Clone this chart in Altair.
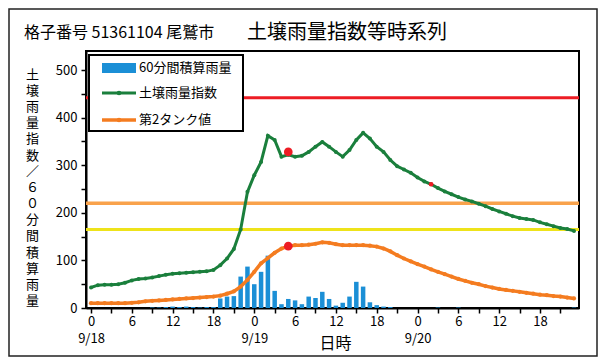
import altair as alt
import pandas as pd

# ---------------- data ----------------
HOURS = list(range(72))  # 9/18 0:00 .. 9/20 23:00, hourly
RAIN = [0, 0, 0, 0, 0, 0, 0, 0, 0, 1, 1, 2, 3, 2, 3, 2, 1, 2, 2, 20,
        24, 25, 66, 87, 50, 76, 110, 36, 8, 19, 16, 8, 24, 21, 34, 19, 5, 11, 24, 55,
        45, 12, 6, 3, 2, 0, 0, 0, 0, 0, 0, 1, 0, 0, 1, 0, 0, 0, 0, 0,
        0, 0, 0, 0, 0, 0, 0, 0, 0, 0, 0, 1]
SOIL = [43, 48, 49, 49, 50, 53, 58, 61, 62, 64, 67, 70, 72, 73, 74, 75, 76, 77, 80, 90,
        104, 124, 165, 244, 279, 307, 362, 353, 318, 322, 318, 320, 328, 339, 349, 339, 328, 318, 332, 353,
        368, 356, 339, 328, 311, 298, 291, 284, 274, 266, 260, 252, 245, 239, 233, 228, 224, 219, 214, 208,
        203, 198, 193, 189, 187, 185, 180, 176, 172, 168, 166, 162]
TANK2 = [10, 10, 10, 10, 10, 10, 11, 12, 14, 15, 16, 17, 18, 19, 20, 21, 22, 23, 24, 26,
         30, 35, 45, 59, 76, 94, 105, 116, 125, 130, 132, 132, 133, 135, 138, 137, 134, 132, 132, 132,
         132, 131, 129, 125, 119, 111, 104, 98, 92, 87, 81, 76, 71, 66, 61, 57, 53, 50, 46, 43,
         40, 38, 36, 34, 32, 30, 28, 27, 25, 24, 22, 20]
THRESH_RED = [442]
THRESH_ORANGE = [220]
THRESH_YELLOW = [165]
BIG_DOT_HOURS = [29, 29]
BIG_DOT_VALUES = [328, 130]
SMALL_DOT_HOURS = [50]
SMALL_DOT_VALUES = [260]

TITLE_LEFT = ["格子番号 51361104 尾鷲市"]
TITLE_MAIN = ["土壌雨量指数等時系列"]
Y_TITLE = "土壌雨量指数／６０分間積算雨量"
X_TITLE = "日時"
LEGEND_LABELS = ["60分間積算雨量", "土壌雨量指数", "第2タンク値"]
DAY_LABELS = ["9/18", "9/19", "9/20"]
X_TICKS = list(range(0, 72, 3))
Y_TICKS = list(range(0, 501, 50))

# ---------------- styles ----------------
FONT = "Noto Sans CJK JP"
BLUE = "#1b8fd6"
GREEN = "#1a7f3c"
ORANGE = "#f47c20"
ORANGE_T = "#f9a24b"
YELLOW = "#eee31a"
RED = "#ed1c24"

W, H = 493, 257

df = pd.DataFrame({"h": HOURS, "rain": RAIN, "soil": SOIL, "tank": TANK2})

xscale = alt.Scale(domain=[0, 71], nice=False, zero=False)
yscale = alt.Scale(domain=[0, 540], nice=False)

days_js = "[" + ",".join("'" + d + "'" for d in DAY_LABELS) + "]"
xaxis = alt.Axis(
    values=X_TICKS,
    labelExpr=("datum.value % 24 == 0 ? ['0', " + days_js + "[floor(datum.value / 24)]] : "
               "(datum.value % 6 == 0 ? '' + (datum.value % 24) : '')"),
    title=X_TITLE, titleFont=FONT, titleFontSize=16, titleFontWeight="normal",
    titleBaseline="middle", titleY=35, titleX=249, titleColor="black",
    labelFont=FONT, labelFontSize=13, labelColor="black", labelLineHeight=17,
    labelFlush=False, labelOverlap=False, labelBaseline="top", labelPadding=2,
    tickSize=5, tickColor="black", tickWidth=1.5,
    domainColor="black", domainWidth=2, grid=False,
)
yaxis = alt.Axis(
    values=Y_TICKS,
    labelExpr="datum.value % 100 == 0 ? datum.label : ''",
    title=list(Y_TITLE), titleFont=FONT, titleFontSize=13, titleFontWeight="normal",
    titleAngle=0, titleAlign="center", titleBaseline="middle", titleLineHeight=16.2,
    titleX=-54, titleY=23, titleColor="black",
    labelFont=FONT, labelFontSize=13, labelColor="black", labelPadding=4,
    tickSize=5, tickColor="black", tickWidth=1.5,
    domainColor="black", domainWidth=2, grid=False,
)

X = alt.X("h:Q", scale=xscale, axis=xaxis)

bars = alt.Chart(df).mark_bar(size=4.5, color=BLUE).encode(
    x=X, y=alt.Y("rain:Q", scale=yscale, axis=yaxis)
)

def thresh(vals, color, width):
    return alt.Chart(pd.DataFrame({"v": vals})).mark_rule(color=color, strokeWidth=width).encode(
        y=alt.Y("v:Q", scale=yscale, axis=yaxis)
    )

rule_red = thresh(THRESH_RED, RED, 3)
rule_orange = thresh(THRESH_ORANGE, ORANGE_T, 3.5)
rule_yellow = thresh(THRESH_YELLOW, YELLOW, 3)

soil_line = alt.Chart(df).mark_line(color=GREEN, strokeWidth=3).encode(
    x=X, y=alt.Y("soil:Q", scale=yscale, axis=yaxis))
soil_pts = alt.Chart(df).mark_point(filled=True, color=GREEN, size=16, opacity=1).encode(
    x=X, y=alt.Y("soil:Q", scale=yscale, axis=yaxis))
tank_line = alt.Chart(df).mark_line(color=ORANGE, strokeWidth=3.5).encode(
    x=X, y=alt.Y("tank:Q", scale=yscale, axis=yaxis))
tank_pts = alt.Chart(df).mark_point(filled=True, color=ORANGE, size=18, opacity=1).encode(
    x=X, y=alt.Y("tank:Q", scale=yscale, axis=yaxis))

big_dots = alt.Chart(pd.DataFrame({"h": BIG_DOT_HOURS, "v": BIG_DOT_VALUES})).mark_point(
    filled=True, color=RED, size=75, opacity=1).encode(
    x=X, y=alt.Y("v:Q", scale=yscale, axis=yaxis))
small_dots = alt.Chart(pd.DataFrame({"h": SMALL_DOT_HOURS, "v": SMALL_DOT_VALUES})).mark_point(
    filled=True, color=RED, size=22, opacity=1).encode(
    x=X, y=alt.Y("v:Q", scale=yscale, axis=yaxis))

# ---------------- legend (decoration) ----------------
one = pd.DataFrame({"a": [0]})
leg_box = alt.Chart(one).mark_rect(fill="white", stroke="black", strokeWidth=2).encode(
    x=alt.value(3), x2=alt.value(157), y=alt.value(4), y2=alt.value(80))
leg_bar = alt.Chart(one).mark_rect(fill=BLUE).encode(
    x=alt.value(16), x2=alt.value(50), y=alt.value(12), y2=alt.value(22))
leg_g = alt.Chart(one).mark_rule(color=GREEN, strokeWidth=3).encode(
    x=alt.value(16), x2=alt.value(50), y=alt.value(42))
leg_gp = alt.Chart(one).mark_point(filled=True, color=GREEN, size=22, opacity=1).encode(
    x=alt.value(33), y=alt.value(42))
leg_o = alt.Chart(one).mark_rule(color=ORANGE, strokeWidth=3.5).encode(
    x=alt.value(16), x2=alt.value(50), y=alt.value(69))
leg_op = alt.Chart(one).mark_point(filled=True, color=ORANGE, size=22, opacity=1).encode(
    x=alt.value(33), y=alt.value(69))

def leg_text(label, y):
    return alt.Chart(pd.DataFrame({"t": [label]})).mark_text(
        align="left", baseline="middle", font=FONT, fontSize=13, color="black").encode(
        x=alt.value(53), y=alt.value(y), text="t:N")

leg_t1 = leg_text(LEGEND_LABELS[0], 17)
leg_t2 = leg_text(LEGEND_LABELS[1], 42)
leg_t3 = leg_text(LEGEND_LABELS[2], 69)

# ---------------- titles & outer frame ----------------
title_left = alt.Chart(pd.DataFrame({"t": TITLE_LEFT})).mark_text(
    align="left", baseline="middle", font=FONT, fontSize=16, color="black").encode(
    x=alt.value(-62), y=alt.value(-18), text="t:N")
title_main = alt.Chart(pd.DataFrame({"t": TITLE_MAIN})).mark_text(
    align="left", baseline="middle", font=FONT, fontSize=20, color="black").encode(
    x=alt.value(161), y=alt.value(-18), text="t:N")
frame = alt.Chart(one).mark_rect(fill=None, stroke="#222222", strokeWidth=1.5).encode(
    x=alt.value(-77), x2=alt.value(511), y=alt.value(-42), y2=alt.value(305))

chart = alt.layer(
    bars, rule_red, rule_orange, rule_yellow,
    soil_line, soil_pts, tank_line, tank_pts, big_dots, small_dots,
    leg_box, leg_bar, leg_g, leg_gp, leg_o, leg_op, leg_t1, leg_t2, leg_t3,
    title_left, title_main, frame,
).properties(
    width=W, height=H,
    autosize=alt.AutoSizeParams(type="none"),
    padding={"left": 78, "top": 43, "right": 19, "bottom": 49},
    background="white",
).configure_view(stroke="black", strokeWidth=2)

chart.save("out.html", embed_options={"renderer": "svg", "actions": False})
